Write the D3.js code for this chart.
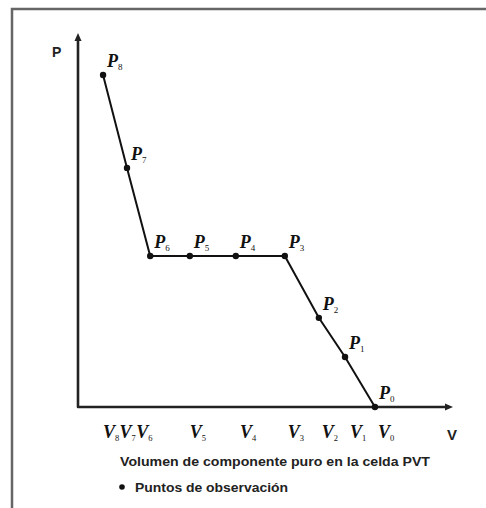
<!DOCTYPE html>
<html><head><meta charset="utf-8">
<script src="https://cdn.jsdelivr.net/npm/d3@7/dist/d3.min.js"></script>
<style>body{margin:0;background:#fff}svg{display:block}</style>
</head><body>
<script>
// Observation points (volume, pressure) in arbitrary units
const pointNames = ["8","7","6","5","4","3","2","1","0"];
const volumes    = [0.67, 1.31, 1.93, 2.99, 4.22, 5.53, 6.44, 7.14, 7.94];
const pressures  = [8.9, 6.41, 4.05, 4.05, 4.05, 4.05, 2.39, 1.34, 0.0];
// V tick labels (position on volume axis)
const tickNames  = ["8","7","6","5","4","3","2","1","0"];
const tickPos    = [0.67, 1.11, 1.56, 2.99, 4.33, 5.61, 6.52, 7.27, 8.02];
const xTitle = "Volumen de componente puro en la celda PVT";
const legendLabel = "Puntos de observación";

const W = 486, H = 508;
const svg = d3.select("body").append("svg").attr("width", W).attr("height", H);

// outer frame
svg.append("rect").attr("x", 12).attr("y", 9).attr("width", W).attr("height", H)
  .attr("fill", "none").attr("stroke", "#666").attr("stroke-width", 2.5);

const x = d3.scaleLinear().domain([0, 10]).range([78, 452]);
const y = d3.scaleLinear().domain([0, 10]).range([407, 34]);

// axes (L-shaped with arrows)
const axis = svg.append("g");
axis.append("path")
  .attr("d", `M${x(0)},${y(10)+4}V${y(0)}H${x(10)-4}`)
  .attr("fill", "none").attr("stroke", "#222").attr("stroke-width", 2.6)
  .attr("stroke-linejoin", "round");
axis.append("path")
  .attr("d", `M${x(0)},${y(10)-1}l-3.5,8h7z`).attr("fill", "#222");
axis.append("path")
  .attr("d", `M${x(10)+1},${y(0)}l-8,-3.5v7z`).attr("fill", "#222");

svg.append("text").attr("x", 52).attr("y", 57).text("P")
  .attr("font-family", "Liberation Sans, Arial, sans-serif").attr("font-weight", "bold")
  .attr("font-size", 14).attr("fill", "#222");
svg.append("text").attr("x", 447).attr("y", 440).text("V")
  .attr("font-family", "Liberation Sans, Arial, sans-serif").attr("font-weight", "bold")
  .attr("font-size", 15).attr("fill", "#222");

const pts = volumes.map((v, i) => ({v, p: pressures[i], n: pointNames[i]}));

svg.append("path").datum(pts)
  .attr("d", d3.line().x(d => x(d.v)).y(d => y(d.p)))
  .attr("fill", "none").attr("stroke", "#111").attr("stroke-width", 2);

svg.selectAll("circle.pt").data(pts).join("circle").attr("class", "pt")
  .attr("cx", d => x(d.v)).attr("cy", d => y(d.p)).attr("r", 3.2).attr("fill", "#111");

const serif = "Liberation Serif, Times New Roman, serif";
const lab = svg.selectAll("text.pl").data(pts).join("text").attr("class", "pl")
  .attr("x", d => x(d.v) + 4).attr("y", d => y(d.p) - 8)
  .attr("font-family", serif).attr("fill", "#111");
lab.append("tspan").text("P").attr("font-style", "italic").attr("font-weight", "bold").attr("font-size", 18);
lab.append("tspan").text(d => d.n).attr("font-size", 9).attr("dy", 3);

const tl = svg.selectAll("text.vl").data(tickPos.map((t, i) => ({t, n: tickNames[i]}))).join("text")
  .attr("class", "vl").attr("x", d => x(d.t)).attr("y", 438)
  .attr("font-family", serif).attr("fill", "#111");
tl.append("tspan").text("V").attr("font-style", "italic").attr("font-weight", "bold").attr("font-size", 18);
tl.append("tspan").text(d => d.n).attr("font-size", 8.5).attr("dy", 3);

svg.append("text").attr("x", 120).attr("y", 466).text(xTitle)
  .attr("font-family", "Liberation Sans, Arial, sans-serif").attr("font-weight", "bold")
  .attr("font-size", 12.5).attr("textLength", 310).attr("lengthAdjust", "spacingAndGlyphs")
  .attr("fill", "#222");

svg.append("circle").attr("cx", 122).attr("cy", 487).attr("r", 2.8).attr("fill", "#111");
svg.append("text").attr("x", 135).attr("y", 492).text(legendLabel)
  .attr("font-family", "Liberation Sans, Arial, sans-serif").attr("font-weight", "bold")
  .attr("font-size", 12).attr("textLength", 153).attr("lengthAdjust", "spacingAndGlyphs")
  .attr("fill", "#222");
</script>
</body></html>
